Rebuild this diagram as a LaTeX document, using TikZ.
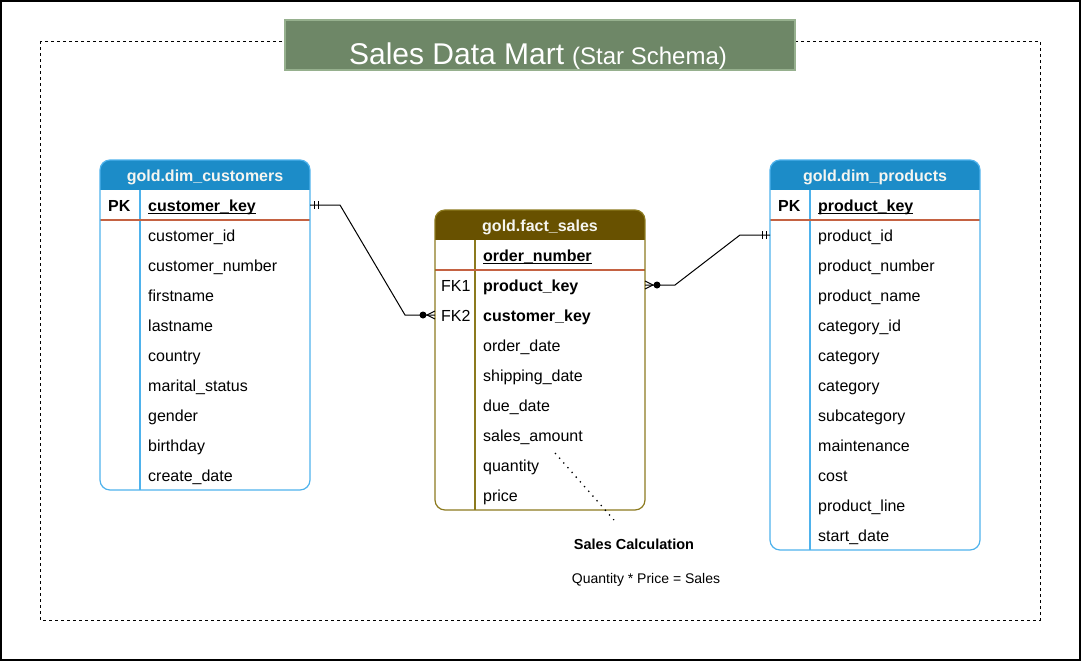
\documentclass[tikz,border=0pt]{standalone}
\usepackage{fontspec}
\setmainfont{Liberation Sans}
\definecolor{hdrblue}{RGB}{28,140,200}
\definecolor{tblblue}{RGB}{78,178,236}
\definecolor{factfill}{RGB}{104,81,0}
\definecolor{factline}{RGB}{140,122,30}
\definecolor{keyline}{RGB}{196,98,66}
\definecolor{titlefill}{RGB}{110,135,103}
\definecolor{titleline}{RGB}{150,176,142}
\definecolor{hdrtext}{RGB}{245,245,240}
\newcommand\keyul[1]{\setbox0\hbox{#1}\rlap{\rule[-2.6pt]{\wd0}{1.2pt}}\box0}
\begin{document}
\begin{tikzpicture}[x=1pt,y=-1pt,
  tbl/.style={minimum width=210pt, inner sep=0pt, outer sep=0pt},
  tblborder/.style={line width=1.2pt, rounded corners=10pt},
  row/.style={anchor=west, inner sep=0pt, text height=13pt, text depth=0pt, font=\fontsize{16}{19}\selectfont},
  rowb/.style={row, font=\fontsize{16}{19}\selectfont\bfseries},
  hdrtxt/.style={inner sep=0pt, text height=13pt, text depth=0pt, font=\fontsize{16}{19}\selectfont\bfseries, text=hdrtext},
  conn/.style={line width=1pt, black},
  endmark/.style={line width=1pt, black},
  sepline/.style={line width=1.2pt},
  dotline/.style={line width=1.3pt, dash pattern=on 1.3pt off 5pt},
  frame/.style={line width=1pt, dash pattern=on 3pt off 3pt}]
\useasboundingbox (0,0) rectangle (1082,662);
\draw[line width=1.5pt] (1,1) rectangle (1080,660);
\draw[frame] (40,41) rectangle (1040,620);
% title
\node[draw=titleline, fill=titlefill, line width=1.2pt, minimum width=510pt, minimum height=50pt, inner sep=0pt] (title) at (540,45) {};
\node[anchor=base, text=white, inner sep=0pt] (titletext) at (538,64) {{\fontsize{30}{36}\selectfont Sales Data Mart}\hspace{8pt}{\fontsize{24}{29}\selectfont (Star Schema)}};
% ---------- customers ----------
\node[tbl, minimum height=330pt] (cust) at (205,325) {};
\begin{scope}
\clip[rounded corners=10pt] (cust.north west) rectangle (cust.south east);
\fill[hdrblue] (cust.north west) rectangle ([yshift=-30pt]cust.north east);
\end{scope}
\draw[tblblue, sepline] ([xshift=40pt,yshift=-30pt]cust.north west) -- ([xshift=40pt]cust.south west);
\draw[keyline, sepline] ([yshift=-60pt]cust.north west) -- ([yshift=-60pt]cust.north east);
\draw[tblblue, tblborder] (cust.north west) rectangle (cust.south east);
\node[hdrtxt] (custh) at ([yshift=-15pt]cust.north) {gold.dim\_customers};
\node[rowb] (custpk) at (108,205) {PK};
\node[rowb] (custkey) at (148,205) {\keyul{customer\_key}};
\foreach \t [count=\i] in {customer\_id, customer\_number, firstname, lastname, country, marital\_status, gender, birthday, create\_date}
  \node[row] (cust\i) at (148,{205+30*\i}) {\t};
% ---------- fact ----------
\node[tbl, minimum height=300pt] (fact) at (540,360) {};
\begin{scope}
\clip[rounded corners=10pt] (fact.north west) rectangle (fact.south east);
\fill[factfill] (fact.north west) rectangle ([yshift=-30pt]fact.north east);
\end{scope}
\draw[factline, sepline] ([xshift=40pt,yshift=-30pt]fact.north west) -- ([xshift=40pt]fact.south west);
\draw[keyline, sepline] ([yshift=-60pt]fact.north west) -- ([yshift=-60pt]fact.north east);
\draw[factline, tblborder] (fact.north west) rectangle (fact.south east);
\node[hdrtxt] (facth) at ([yshift=-15pt]fact.north) {gold.fact\_sales};
\node[rowb] (factpk) at (483,255) {\keyul{order\_number}};
\node[row] (factfk1) at (441,285) {FK1};
\node[rowb] (factprod) at (483,285) {product\_key};
\node[row] (factfk2) at (441,315) {FK2};
\node[rowb] (factcust) at (483,315) {customer\_key};
\foreach \t [count=\i] in {order\_date, shipping\_date, due\_date, sales\_amount, quantity, price}
  \node[row] (fact\i) at (483,{315+30*\i}) {\t};
% ---------- products ----------
\node[tbl, minimum height=390pt] (prod) at (875,355) {};
\begin{scope}
\clip[rounded corners=10pt] (prod.north west) rectangle (prod.south east);
\fill[hdrblue] (prod.north west) rectangle ([yshift=-30pt]prod.north east);
\end{scope}
\draw[tblblue, sepline] ([xshift=40pt,yshift=-30pt]prod.north west) -- ([xshift=40pt]prod.south west);
\draw[keyline, sepline] ([yshift=-60pt]prod.north west) -- ([yshift=-60pt]prod.north east);
\draw[tblblue, tblborder] (prod.north west) rectangle (prod.south east);
\node[hdrtxt] (prodh) at ([yshift=-15pt]prod.north) {gold.dim\_products};
\node[rowb] (prodpk) at (778,205) {PK};
\node[rowb] (prodkey) at (818,205) {\keyul{product\_key}};
\foreach \t [count=\i] in {product\_id, product\_number, product\_name, category\_id, category, category, subcategory, maintenance, cost, product\_line, start\_date}
  \node[row] (prod\i) at (818,{205+30*\i}) {\t};
% ---------- connectors ----------
\coordinate (c1s) at (custkey.west -| cust.east);
\coordinate (c1e) at (factfk2.west -| fact.west);
\draw[conn] (c1s) -- ++(30,0) -- ([xshift=-30pt]c1e) -- (c1e);
\draw[endmark] ([xshift=4pt,yshift=4pt]c1s) -- ([xshift=4pt,yshift=-4pt]c1s)
               ([xshift=8pt,yshift=4pt]c1s) -- ([xshift=8pt,yshift=-4pt]c1s);
\draw[endmark] ([yshift=4pt]c1e) -- ([xshift=-8pt]c1e) -- ([yshift=-4pt]c1e);
\fill ([xshift=-12pt]c1e) circle (3.5pt);
\coordinate (c2s) at (factprod.west -| fact.east);
\coordinate (c2e) at (prod1.west -| prod.west);
\draw[conn] (c2s) -- ++(30,0) -- ([xshift=-30pt]c2e) -- (c2e);
\draw[endmark] ([xshift=-4pt,yshift=4pt]c2e) -- ([xshift=-4pt,yshift=-4pt]c2e)
               ([xshift=-8pt,yshift=4pt]c2e) -- ([xshift=-8pt,yshift=-4pt]c2e);
\draw[endmark] ([yshift=4pt]c2s) -- ([xshift=8pt]c2s) -- ([yshift=-4pt]c2s);
\fill ([xshift=12pt]c2s) circle (3.5pt);
% ---------- note ----------
\coordinate (d1) at (555,453);
\coordinate (d2) at (614,520);
\draw[dotline] (d1) -- (d2);
\node[inner sep=0pt, font=\fontsize{14.5}{17}\selectfont\bfseries] (calc) at (634,544) {Sales Calculation};
\node[inner sep=0pt, font=\fontsize{14}{17}\selectfont] (formula) at (646,580) {Quantity * Price = Sales};
\end{tikzpicture}
\end{document}
